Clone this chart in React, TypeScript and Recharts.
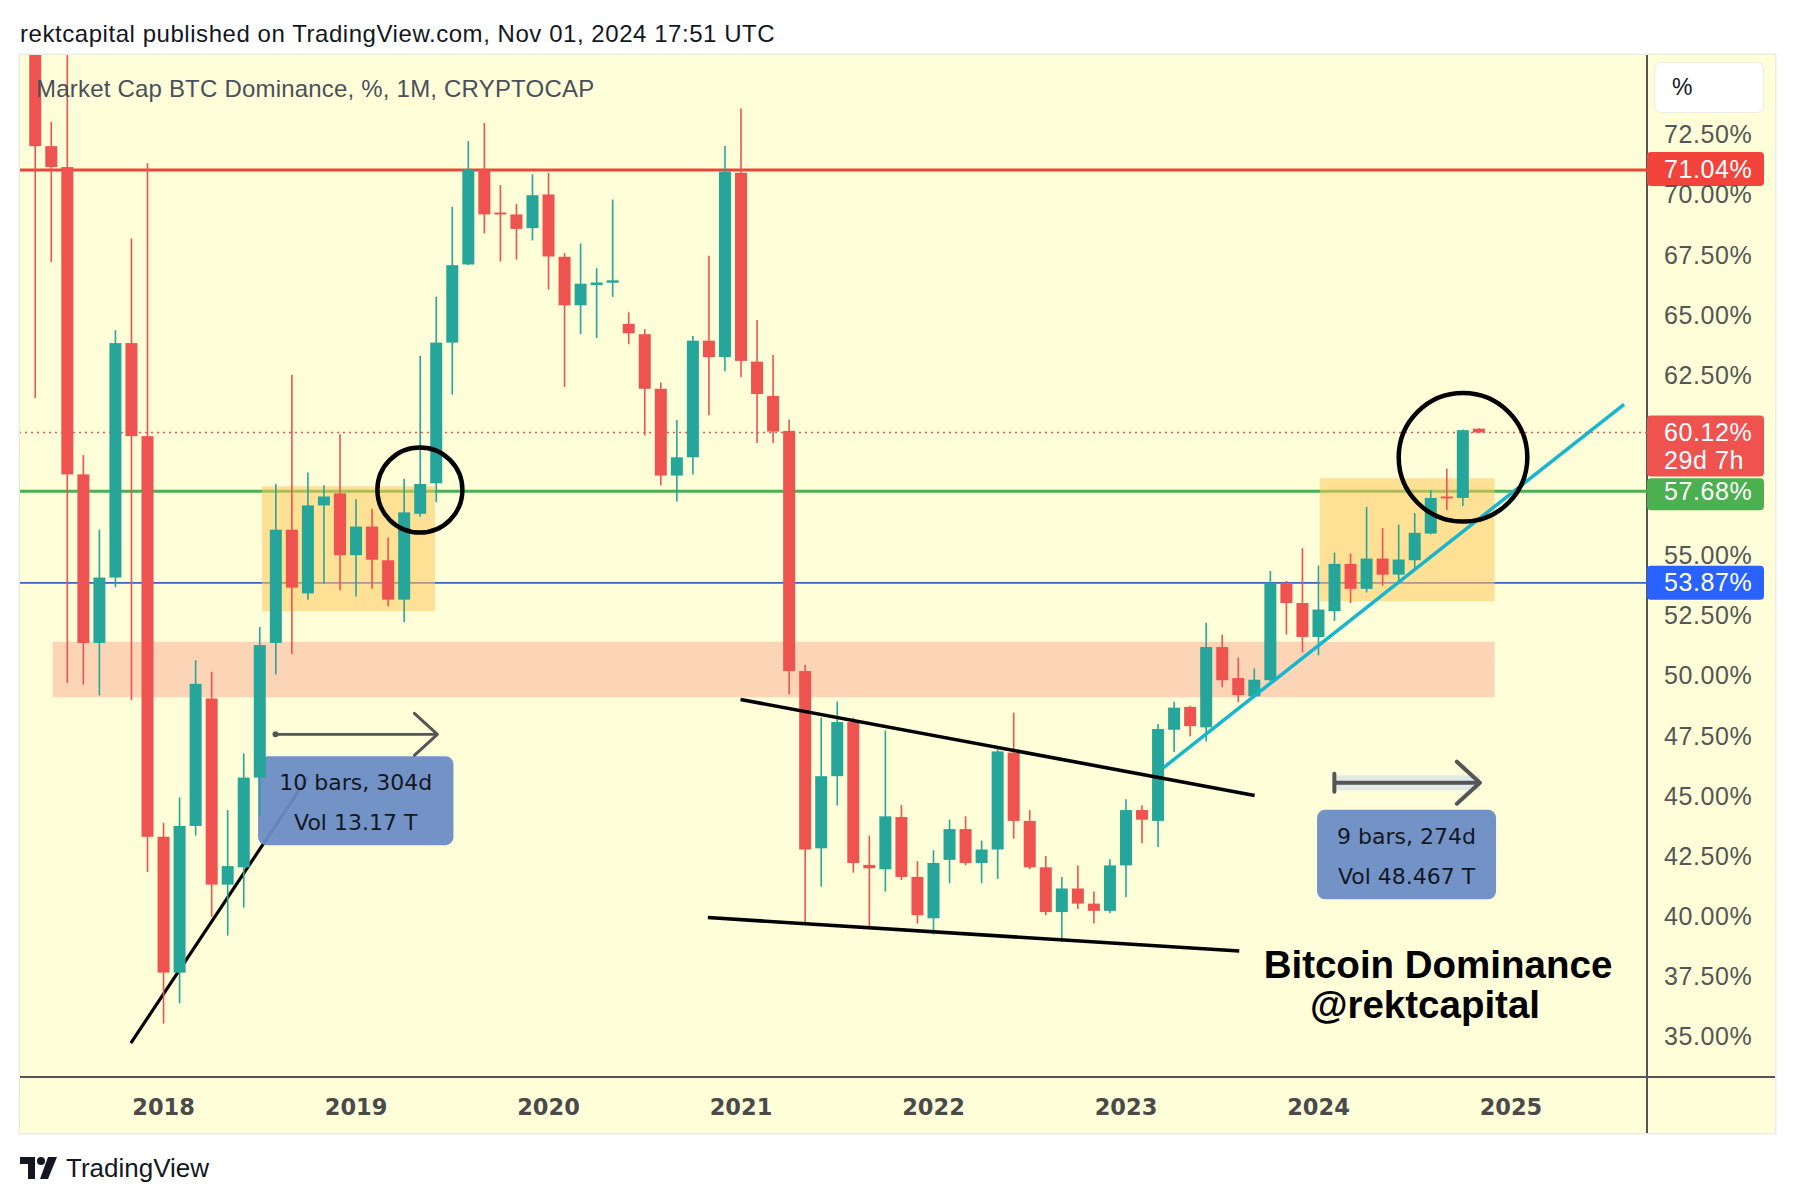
import React from "react";
import {
  ComposedChart,
  Bar,
  XAxis,
  YAxis,
  ReferenceLine,
  ReferenceArea,
  ReferenceDot,
} from "recharts";

// monthly candles, CRYPTOCAP:BTC.D, May 2017 .. Nov 2024
const MONTHS = [
  "2017-05", "2017-06", "2017-07", "2017-08", "2017-09", "2017-10", "2017-11", "2017-12",
  "2018-01", "2018-02", "2018-03", "2018-04", "2018-05", "2018-06", "2018-07", "2018-08", "2018-09", "2018-10", "2018-11", "2018-12",
  "2019-01", "2019-02", "2019-03", "2019-04", "2019-05", "2019-06", "2019-07", "2019-08", "2019-09", "2019-10", "2019-11", "2019-12",
  "2020-01", "2020-02", "2020-03", "2020-04", "2020-05", "2020-06", "2020-07", "2020-08", "2020-09", "2020-10", "2020-11", "2020-12",
  "2021-01", "2021-02", "2021-03", "2021-04", "2021-05", "2021-06", "2021-07", "2021-08", "2021-09", "2021-10", "2021-11", "2021-12",
  "2022-01", "2022-02", "2022-03", "2022-04", "2022-05", "2022-06", "2022-07", "2022-08", "2022-09", "2022-10", "2022-11", "2022-12",
  "2023-01", "2023-02", "2023-03", "2023-04", "2023-05", "2023-06", "2023-07", "2023-08", "2023-09", "2023-10", "2023-11", "2023-12",
  "2024-01", "2024-02", "2024-03", "2024-04", "2024-05", "2024-06", "2024-07", "2024-08", "2024-09", "2024-10", "2024-11",
];

const OPEN = [
  79.0, 72.03, 71.16, 58.38, 51.37, 54.09, 63.84, 59.97,
  43.31, 37.66, 43.76, 49.06, 41.32, 42.04, 45.77, 51.37, 56.08, 53.43, 57.09, 57.59,
  55.02, 56.21, 54.81, 53.17, 56.74, 58.01, 63.86, 67.11, 71.05, 69.27, 69.19, 68.62,
  70.02, 67.43, 65.41, 66.25, 66.35, 64.64, 64.21, 61.94, 58.33, 59.09, 63.94, 63.26,
  70.92, 63.07, 61.64, 60.19, 50.2, 42.83, 45.83, 48.08, 42.14, 41.96, 44.13, 41.64,
  39.92, 42.35, 43.63, 42.22, 42.78, 46.81, 43.97, 42.04, 40.18, 41.16, 40.53, 40.23,
  42.12, 44.42, 43.97, 47.76, 48.71, 47.86, 51.2, 49.91, 49.15, 49.82, 53.87, 53.03,
  51.62, 52.69, 54.66, 53.62, 54.88, 54.21, 54.81, 55.92, 57.46, 57.4, 60.28,
];
const HIGH = [
  80.5, 73.04, 77.0, 59.18, 56.08, 64.37, 68.19, 71.32,
  43.89, 44.95, 50.65, 50.17, 44.42, 46.78, 52.03, 57.99, 62.52, 58.46, 57.93, 60.05,
  57.35, 56.95, 55.76, 58.2, 63.31, 65.77, 69.51, 72.24, 72.99, 70.41, 69.62, 70.86,
  70.92, 67.58, 67.98, 66.95, 69.81, 65.12, 64.42, 62.2, 60.64, 64.13, 67.47, 72.04,
  73.59, 64.8, 63.34, 60.66, 50.46, 48.26, 48.93, 48.26, 43.36, 47.73, 44.63, 42.3,
  42.75, 44.02, 44.16, 43.15, 47.02, 48.47, 44.42, 42.51, 41.64, 42.12, 41.03, 42.38,
  44.87, 44.61, 48.0, 48.93, 48.76, 52.21, 51.72, 50.76, 50.31, 54.36, 53.95, 55.31,
  54.59, 55.13, 55.09, 57.03, 56.14, 56.29, 56.77, 57.73, 58.62, 60.25, 60.3,
];
const LOW = [
  61.56, 67.21, 49.72, 49.64, 49.19, 53.69, 49.0, 41.85,
  35.54, 36.39, 43.36, 39.99, 39.2, 40.37, 44.16, 50.06, 50.91, 53.17, 53.83, 53.56,
  53.3, 53.62, 52.9, 52.24, 56.62, 57.22, 61.7, 67.08, 68.4, 67.23, 67.31, 68.11,
  66.07, 62.02, 64.21, 64.05, 65.76, 63.79, 60.0, 57.93, 57.25, 58.38, 60.84, 62.67,
  62.42, 59.68, 59.68, 49.24, 39.73, 41.24, 44.61, 41.82, 39.57, 41.03, 41.51, 39.7,
  39.25, 41.38, 42.12, 41.38, 41.56, 43.23, 41.96, 40.05, 38.94, 40.31, 39.7, 40.13,
  40.79, 43.04, 42.88, 46.83, 47.49, 47.27, 49.53, 48.9, 49.1, 49.79, 51.72, 50.98,
  50.86, 52.29, 53.03, 53.47, 53.75, 53.84, 54.47, 55.89, 56.9, 57.06, 60.1,
];
const CLOSE = [
  72.03, 71.16, 58.38, 51.37, 54.09, 63.84, 59.97, 43.31,
  37.66, 43.76, 49.67, 41.32, 42.09, 45.77, 51.28, 56.08, 53.67, 57.09, 57.46, 55.02,
  56.21, 54.83, 53.17, 56.8, 57.98, 63.86, 67.08, 71.05, 69.19, 69.19, 68.59, 69.99,
  67.44, 65.41, 66.31, 66.36, 66.45, 64.25, 61.94, 58.33, 59.09, 63.94, 63.26, 70.97,
  63.1, 61.72, 60.16, 50.2, 42.78, 45.83, 48.08, 42.22, 42.0, 44.16, 41.64, 40.05,
  42.22, 43.63, 42.22, 42.78, 46.86, 43.97, 42.04, 40.18, 41.16, 40.53, 40.23, 42.12,
  44.42, 44.02, 47.79, 48.68, 47.91, 51.2, 49.82, 49.2, 49.84, 53.87, 53.03, 51.62,
  52.76, 54.66, 53.62, 54.88, 54.21, 54.84, 55.95, 57.4, 57.38, 60.22, 60.12,
];

// month index 0 = Jan 2018
const FIRST_MONTH = -8;
const X_DOMAIN = [-8.95, 92.48];
const Y_DOMAIN = [33.32, 75.82];

const YEAR_TICKS = [0, 12, 24, 36, 48, 60, 72, 84];
const YEAR_LABELS = ["2018", "2019", "2020", "2021", "2022", "2023", "2024", "2025"];
const PRICE_TICKS = [35, 37.5, 40, 42.5, 45, 47.5, 50, 52.5, 55, 62.5, 65, 67.5, 70, 72.5];

const RESISTANCE = 71.04;
const LAST_PRICE = 60.12;
const SUPPORT = 57.68;
const MIDLINE = 53.87;

// zones: [x1, x2, y1, y2] in month index / percent
const DEMAND_ZONE = [-6.91, 82.98, 49.11, 51.42];
const RANGE_2018 = [6.13, 16.92, 52.69, 57.89];
const RANGE_2024 = [72.09, 82.98, 53.1, 58.22];

// trend lines: [x1, y1, x2, y2]
const TREND_2018 = [-2.04, 34.73, 9.02, 45.82];
const WEDGE_TOP = [35.97, 49.02, 68.02, 45.03];
const WEDGE_BOTTOM = [33.93, 39.95, 67.06, 38.56];
const TREND_2023 = [62.33, 46.18, 91.05, 61.29];

const RULER_2018 = { from: 6.98, to: 17.07, y: 47.57, box: [5.89, 18.07, 42.96, 46.66], lines: ["10 bars, 304d", "Vol 13.17 T"] };
const RULER_2024 = { from: 72.99, to: 82.06, y: 45.56, box: [71.91, 83.07, 40.71, 44.43], lines: ["9 bars, 274d", "Vol 48.467 T"] };

const CIRCLES = [
  { x: 15.98, y: 57.73, r: 42.5 },
  { x: 81.01, y: 59.09, r: 64.3 },
];

const GREEN = "#26a69a";
const RED = "#ef5350";
const BG = "#fefed9";
const SANS = "'Liberation Sans', Arial, sans-serif";

const rows = MONTHS.map((month, i) => ({
  m: i + FIRST_MONTH,
  month,
  o: OPEN[i],
  h: HIGH[i],
  l: LOW[i],
  c: CLOSE[i],
  range: [LOW[i], HIGH[i]],
}));

function Candle(props: any) {
  const { x, y, width, height, payload } = props;
  if (!payload || height == null) return null;
  const { o, h, l, c } = payload;
  const top = Math.min(y, y + height);
  const k = Math.abs(height) / (h - l);
  const cx = x + width / 2;
  const yo = top + (h - o) * k;
  const yc = top + (h - c) * k;
  const color = c >= o ? GREEN : RED;
  return (
    <g>
      <line x1={cx} x2={cx} y1={top} y2={top + Math.abs(height)} stroke={color} strokeWidth={1.6} />
      <rect x={x} y={Math.min(yo, yc)} width={width} height={Math.max(Math.abs(yc - yo), 1.6)} fill={color} />
    </g>
  );
}

function YearTick(props: any) {
  const { x, y, payload } = props;
  const i = YEAR_TICKS.indexOf(payload.value);
  return (
    <text x={x} y={y + 38} textAnchor="middle" fill="#4a4a4a" fontFamily="'DejaVu Sans', sans-serif" fontWeight={700} fontSize={22.5}>
      {YEAR_LABELS[i]}
    </text>
  );
}

function PriceTick(props: any) {
  const { x, y, payload } = props;
  return (
    <text x={x + 17} y={y + 8.5} fill="#555" fontFamily={SANS} fontSize={25} letterSpacing={0.6}>
      {payload.value.toFixed(2)}%
    </text>
  );
}

function PriceTag(props: any) {
  const { viewBox, fill, text, sub, above = 17, h = 34 } = props;
  if (!viewBox) return null;
  const x = viewBox.x + viewBox.width;
  const top = viewBox.y - above;
  return (
    <g>
      <rect x={x} y={top} width={117} height={h} rx={4} fill={fill} />
      <text x={x + 17} y={viewBox.y + 8.5} fill="#fff" fontFamily={SANS} fontSize={25} letterSpacing={0.6}>
        {text}
      </text>
      {sub ? (
        <text x={x + 17} y={viewBox.y + 36.5} fill="#fff" fontFamily={SANS} fontSize={25} letterSpacing={0.6}>
          {sub}
        </text>
      ) : null}
    </g>
  );
}

function RulerBox(props: any) {
  const { x, y, width, height, lines } = props;
  const cx = x + width / 2;
  return (
    <g>
      <rect x={x} y={y} width={width} height={height} rx={8} fill="#6a8cc6" fillOpacity={0.94} />
      <text x={cx} y={y + 34} textAnchor="middle" fill="#131722" fontFamily="'DejaVu Sans', sans-serif" fontSize={22}>
        {lines[0]}
      </text>
      <text x={cx} y={y + 74} textAnchor="middle" fill="#131722" fontFamily="'DejaVu Sans', sans-serif" fontSize={22}>
        {lines[1]}
      </text>
    </g>
  );
}

function ArrowHead(props: any) {
  const { cx, cy, w = 3 } = props;
  return (
    <polyline
      points={`${cx - 23},${cy - 21} ${cx},${cy} ${cx - 23},${cy + 21}`}
      fill="none"
      stroke="#555"
      strokeWidth={w}
      strokeLinecap="round"
      strokeLinejoin="round"
    />
  );
}

function StartTick(props: any) {
  const { cx, cy } = props;
  return <line x1={cx} x2={cx} y1={cy - 9} y2={cy + 9} stroke="#555" strokeWidth={4} strokeLinecap="round" />;
}

function Signature(props: any) {
  const { cx, cy } = props;
  return (
    <g fontFamily={SANS} fontWeight={700} fontSize={38.5} fill="#000" textAnchor="middle">
      <text x={cx} y={cy}>Bitcoin Dominance</text>
      <text x={cx - 13} y={cy + 40}>@rektcapital</text>
    </g>
  );
}

const seg = (s: number[]) => [
  { x: s[0], y: s[1] },
  { x: s[2], y: s[3] },
];

export default function App() {
  return (
    <div style={{ position: "absolute", left: 0, top: 0, width: 1794, height: 1202, background: "#fff", overflow: "hidden" }}>
      <div style={{ position: "absolute", left: 20, top: 20, fontFamily: SANS, fontSize: 24, letterSpacing: 0.55, color: "#131722", whiteSpace: "nowrap" }}>
        rektcapital published on TradingView.com, Nov 01, 2024 17:51 UTC
      </div>

      <div
        style={{
          position: "absolute",
          left: 20,
          top: 55,
          width: 1755,
          height: 1078,
          background: BG,
          boxShadow: "0 0 0 1.5px #ebebe4",
        }}
      />
      {/* axis separators */}
      <div style={{ position: "absolute", left: 20, top: 1076, width: 1755, height: 2, background: "#555" }} />
      <div style={{ position: "absolute", left: 1646, top: 55, width: 2, height: 1078, background: "#555" }} />
      {/* scale mode button */}
      <div
        style={{
          position: "absolute",
          left: 1654,
          top: 62,
          width: 110,
          height: 51,
          background: "#fff",
          border: "1px solid #ecece4",
          borderRadius: 7,
          boxSizing: "border-box",
        }}
      />
      <div style={{ position: "absolute", left: 1672, top: 74, fontFamily: SANS, fontSize: 23, color: "#131722" }}>%</div>

      <div style={{ position: "absolute", left: 20, top: 55 }}>
        <ComposedChart width={1755} height={1078} data={rows} margin={{ top: 0, right: 0, bottom: 0, left: 0 }}>
          <XAxis
            dataKey="m"
            type="number"
            domain={X_DOMAIN}
            ticks={YEAR_TICKS}
            interval={0}
            allowDataOverflow
            axisLine={false}
            tickLine={false}
            tickSize={0}
            tickMargin={0}
            height={56}
            tick={<YearTick />}
          />
          <YAxis
            orientation="right"
            type="number"
            domain={Y_DOMAIN}
            ticks={PRICE_TICKS}
            interval={0}
            allowDataOverflow
            axisLine={false}
            tickLine={false}
            tickSize={0}
            tickMargin={0}
            width={128}
            tick={<PriceTick />}
          />

          <ReferenceLine y={LAST_PRICE} stroke={RED} strokeWidth={1.4} strokeDasharray="2 4" zIndex={50}
            label={<PriceTag fill="#ef5350" text="60.12%" sub="29d 7h" above={17} h={61} />} />
          <ReferenceLine y={RESISTANCE} stroke="#e5483b" strokeWidth={3} zIndex={50}
            label={<PriceTag fill="#f2443b" text="71.04%" above={18} h={34} />} />
          <ReferenceLine y={SUPPORT} stroke="#4caf50" strokeWidth={3} zIndex={50}
            label={<PriceTag fill="#4caf50" text="57.68%" above={13} h={32} />} />
          <ReferenceLine y={MIDLINE} stroke="#3d5fc8" strokeWidth={1.8} zIndex={50}
            label={<PriceTag fill="#2962ff" text="53.87%" above={17} h={34} />} />

          <ReferenceArea x1={DEMAND_ZONE[0]} x2={DEMAND_ZONE[1]} y1={DEMAND_ZONE[2]} y2={DEMAND_ZONE[3]}
            fill="#fbc9ac" fillOpacity={0.8} stroke="none" zIndex={100} />
          <ReferenceArea x1={RANGE_2018[0]} x2={RANGE_2018[1]} y1={RANGE_2018[2]} y2={RANGE_2018[3]}
            fill="#ffc85c" fillOpacity={0.55} stroke="none" zIndex={100} />
          <ReferenceArea x1={RANGE_2024[0]} x2={RANGE_2024[1]} y1={RANGE_2024[2]} y2={RANGE_2024[3]}
            fill="#ffc85c" fillOpacity={0.55} stroke="none" zIndex={100} />

          <ReferenceLine segment={seg(TREND_2018)} stroke="#000" strokeWidth={3.2} zIndex={150} />
          <ReferenceArea x1={RULER_2018.box[0]} x2={RULER_2018.box[1]} y1={RULER_2018.box[2]} y2={RULER_2018.box[3]}
            zIndex={200} shape={(p: any) => <RulerBox {...p} lines={RULER_2018.lines} />} />
          <ReferenceArea x1={RULER_2024.box[0]} x2={RULER_2024.box[1]} y1={RULER_2024.box[2]} y2={RULER_2024.box[3]}
            zIndex={200} shape={(p: any) => <RulerBox {...p} lines={RULER_2024.lines} />} />

          <Bar dataKey="range" barSize={12} shape={<Candle />} isAnimationActive={false} zIndex={300} />

          <ReferenceLine segment={seg(WEDGE_TOP)} stroke="#000" strokeWidth={3.6} zIndex={400} />
          <ReferenceLine segment={seg(WEDGE_BOTTOM)} stroke="#000" strokeWidth={3.6} zIndex={400} />
          <ReferenceLine segment={seg(TREND_2023)} stroke="#17b6cf" strokeWidth={3.5} zIndex={400} />

          <ReferenceLine segment={[{ x: RULER_2018.from, y: RULER_2018.y }, { x: RULER_2018.to, y: RULER_2018.y }]}
            stroke="#555" strokeWidth={2.6} zIndex={400} />
          <ReferenceDot x={RULER_2018.from} y={RULER_2018.y} r={3} fill="#555" stroke="none" zIndex={400} />
          <ReferenceDot x={RULER_2018.to} y={RULER_2018.y} zIndex={400} shape={(p: any) => <ArrowHead {...p} w={3} />} />

          <ReferenceLine segment={[{ x: RULER_2024.from, y: RULER_2024.y }, { x: RULER_2024.to, y: RULER_2024.y }]}
            stroke="#e1e9e6" strokeWidth={15} zIndex={400} />
          <ReferenceLine segment={[{ x: RULER_2024.from, y: RULER_2024.y }, { x: RULER_2024.to, y: RULER_2024.y }]}
            stroke="#555" strokeWidth={4} zIndex={400} />
          <ReferenceDot x={RULER_2024.from} y={RULER_2024.y} zIndex={400} shape={(p: any) => <StartTick {...p} />} />
          <ReferenceDot x={RULER_2024.to} y={RULER_2024.y} zIndex={400} shape={(p: any) => <ArrowHead {...p} w={4} />} />

          {CIRCLES.map((c, i) => (
            <ReferenceDot key={i} x={c.x} y={c.y} r={c.r} fill="none" stroke="#000" strokeWidth={4.5} zIndex={500} />
          ))}

          <ReferenceDot x={79.45} y={37.43} zIndex={500} shape={(p: any) => <Signature {...p} />} />
        </ComposedChart>
      </div>

      {/* series title sits above the candles */}
      <div style={{ position: "absolute", left: 36, top: 75, fontFamily: SANS, fontSize: 24, letterSpacing: 0.2, color: "#4b4f5a", whiteSpace: "nowrap", pointerEvents: "none" }}>
        Market Cap BTC Dominance, %, 1M, CRYPTOCAP
      </div>

      {/* footer logo */}
      <svg style={{ position: "absolute", left: 20, top: 1155 }} width={200} height={30}>
        <path d="M0 2 H15 V24 H8 V9 H0 Z" fill="#131722" />
        <circle cx={21} cy={6} r={4} fill="#131722" />
        <path d="M28 2 H37 L28 24 H20 Z" fill="#131722" />
      </svg>
      <div style={{ position: "absolute", left: 66, top: 1153, fontFamily: SANS, fontSize: 26, color: "#131722", whiteSpace: "nowrap" }}>
        TradingView
      </div>
    </div>
  );
}
